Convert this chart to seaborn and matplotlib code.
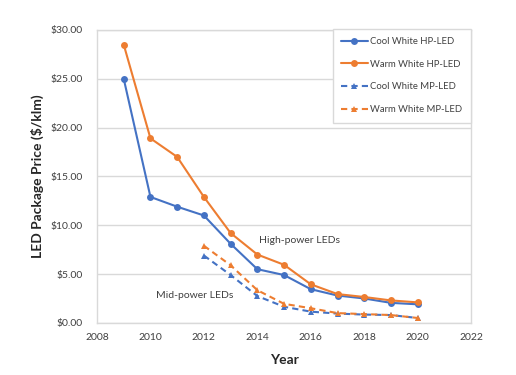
import pandas as pd
import matplotlib.pyplot as plt
import seaborn as sns
from matplotlib.ticker import FuncFormatter

# Datos
hp_years = [2009, 2010, 2011, 2012, 2013, 2014, 2015, 2016, 2017, 2018, 2019, 2020]
cool_hp = [25.0, 12.9, 11.9, 11.0, 8.1, 5.5, 4.9, 3.45, 2.8, 2.5, 2.05, 1.9]
warm_hp = [28.5, 18.9, 17.0, 12.9, 9.2, 7.0, 5.95, 3.95, 2.95, 2.65, 2.3, 2.1]

mp_years = [2012, 2013, 2014, 2015, 2016, 2017, 2018, 2019, 2020]
cool_mp = [6.9, 4.9, 2.75, 1.65, 1.15, 0.95, 0.85, 0.8, 0.5]
warm_mp = [7.9, 5.9, 3.35, 1.95, 1.5, 1.0, 0.9, 0.8, 0.5]

blue = '#4472C4'
orange = '#ED7D31'

sns.set_style('white')
plt.rcParams['font.family'] = ['Lato', 'DejaVu Sans']

fig = plt.figure(figsize=(5.16, 3.75), dpi=100)
ax = fig.add_axes([0.188, 0.139, 0.725, 0.781])

series = [
    (hp_years, cool_hp, 'Cool White HP-LED', blue, 'o', '-'),
    (hp_years, warm_hp, 'Warm White HP-LED', orange, 'o', '-'),
    (mp_years, cool_mp, 'Cool White MP-LED', blue, '^', (0, (3, 2))),
    (mp_years, warm_mp, 'Warm White MP-LED', orange, '^', (0, (3, 2))),
]
for xs, ys, lab, col, mk, ls in series:
    sns.lineplot(x=xs, y=ys, ax=ax, color=col, marker=mk, linestyle=ls,
                 linewidth=1.5, markersize=5, markeredgewidth=0, label=lab)

ax.set_xlim(2008, 2022)
ax.set_ylim(0, 30)
ax.set_xticks(range(2008, 2023, 2))
ax.set_yticks(range(0, 31, 5))
ax.yaxis.set_major_formatter(FuncFormatter(lambda v, p: f'${v:.2f}'))
ax.tick_params(axis='both', length=0, labelsize=7.5, colors='#404040')
ax.tick_params(axis='y', pad=10)
ax.tick_params(axis='x', pad=7)
ax.grid(axis='y', color='#D9D9D9', linewidth=1)
for s in ax.spines.values():
    s.set_color('#D9D9D9')
    s.set_linewidth(1)

ax.set_xlabel('Year', fontsize=10, fontweight='bold', color='#262626', labelpad=9)
ax.set_ylabel('LED Package Price ($/klm)', fontsize=10, fontweight='bold',
              color='#262626', labelpad=5)

ax.text(2014.05, 8.4, 'High-power LEDs', fontsize=7.5, color='#404040', va='center')
ax.text(2010.2, 2.8, 'Mid-power LEDs', fontsize=7.5, color='#404040', va='center')

leg = ax.legend(loc='upper right', bbox_to_anchor=(1.0, 1.005), borderaxespad=0,
                fontsize=6.8, labelspacing=1.45, handlelength=2.8, handletextpad=0.3,
                borderpad=0.9, fancybox=False, framealpha=1)
leg.get_frame().set_edgecolor('#D9D9D9')
leg.get_frame().set_linewidth(1)
for t in leg.get_texts():
    t.set_color('#404040')

fig.savefig('out.png', dpi=100)
